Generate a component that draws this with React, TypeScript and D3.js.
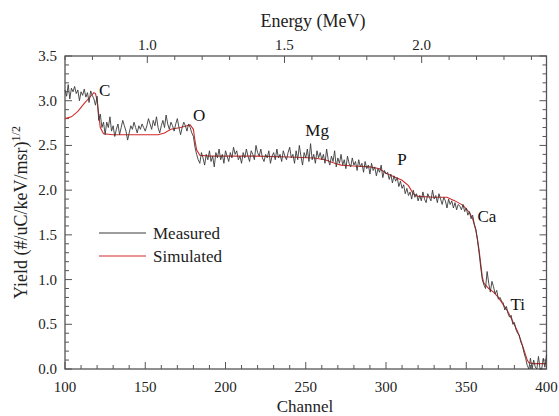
import React from "react";
import * as d3 from "d3";

const channelStart = 100;
const measured: number[] = [
  3.12, 3.05, 3.18, 3.02, 3.14, 3.10, 3.16, 3.08, 3.12, 3.00, 3.10, 3.06, 3.13, 3.04, 3.09, 2.98, 3.11, 3.06,
  3.02, 2.95, 3.05, 2.78, 2.85, 2.70, 2.76, 2.62,
  2.76, 2.70, 2.82, 2.66, 2.72, 2.60, 2.68, 2.74, 2.62, 2.70, 2.78, 2.72, 2.66, 2.56, 2.64, 2.72, 2.68, 2.76,
  2.70, 2.64, 2.72, 2.68, 2.74, 2.70, 2.66, 2.72, 2.80, 2.74, 2.68, 2.78, 2.72, 2.82, 2.70, 2.64, 2.72, 2.78,
  2.70, 2.84, 2.74, 2.68, 2.76, 2.72, 2.66, 2.74, 2.80, 2.70, 2.62, 2.70, 2.76, 2.72, 2.66, 2.74, 2.70, 2.64,
  2.60, 2.48, 2.40, 2.34,
  2.30, 2.42, 2.36, 2.28, 2.40, 2.34, 2.44, 2.32, 2.38, 2.26, 2.42, 2.36, 2.46, 2.34, 2.40, 2.30, 2.44, 2.38,
  2.32, 2.42, 2.36, 2.48, 2.40, 2.44, 2.34, 2.38, 2.30, 2.42, 2.36, 2.46, 2.38, 2.32, 2.44, 2.40, 2.34, 2.50,
  2.42, 2.38, 2.46, 2.36, 2.32, 2.40, 2.36, 2.44, 2.30, 2.38, 2.42, 2.34, 2.46, 2.36, 2.40, 2.32, 2.44, 2.38,
  2.34, 2.42, 2.48, 2.36, 2.40, 2.30, 2.44, 2.34, 2.50, 2.38, 2.28, 2.42, 2.36, 2.46, 2.32, 2.52, 2.34, 2.40,
  2.30, 2.44, 2.36, 2.42, 2.34,
  2.40, 2.30, 2.46, 2.34, 2.28, 2.38, 2.32, 2.44, 2.26, 2.36, 2.30, 2.40, 2.28, 2.34, 2.24, 2.38, 2.30, 2.26,
  2.36, 2.28, 2.32, 2.22, 2.34, 2.26, 2.30, 2.20, 2.32, 2.24, 2.28, 2.18, 2.30, 2.22, 2.26, 2.16, 2.24, 2.20,
  2.28, 2.14, 2.22, 2.18,
  2.20, 2.12, 2.18, 2.08, 2.16, 2.10, 2.14, 2.04, 2.10, 2.02, 2.06, 1.96, 2.02, 1.94, 1.98, 1.90, 2.00, 1.92,
  1.96, 1.88,
  1.94, 1.88, 1.98, 1.90, 1.86, 1.96, 1.92, 1.88, 2.00, 1.90, 1.94, 1.86, 1.96, 1.90, 1.84, 1.92, 1.88, 1.80,
  1.90, 1.84, 1.88, 1.80, 1.86, 1.78, 1.84,
  1.82, 1.78, 1.84, 1.76, 1.80, 1.72, 1.76, 1.68, 1.72, 1.62, 1.56, 1.44, 1.30, 1.14, 1.00, 0.94,
  0.90, 1.09, 0.96, 0.86, 0.98, 0.92, 0.84, 0.88, 0.78, 0.80, 0.76,
  0.74, 0.66, 0.70, 0.62, 0.58, 0.60, 0.50, 0.52, 0.44, 0.40, 0.38, 0.30, 0.26, 0.18, 0.12, 0.04,
  0.00, 0.12, 0.00, 0.10, 0.02, 0.00, 0.14, 0.00, 0.00, 0.12, 0.02, 0.16,
];

const simChannels: number[] = [
  100, 104, 108, 112, 116, 118, 119, 120, 121, 122, 124, 130, 140, 150, 158, 162, 166, 172, 176, 178, 180, 181,
  182, 184, 190, 200, 220, 240, 255, 262, 268, 272, 280, 290, 296, 300, 305, 310, 314, 317, 320, 330, 338, 343,
  348, 352, 354, 356, 357, 358, 359, 360, 361, 364, 367, 370, 373, 376, 379, 382, 384, 386, 388, 389, 392, 400,
];
const simValues: number[] = [
  2.80, 2.82, 2.88, 2.97, 3.05, 3.09, 3.08, 3.0, 2.85, 2.70, 2.63, 2.62, 2.62, 2.62, 2.62, 2.64, 2.68, 2.70, 2.72,
  2.73, 2.68, 2.55, 2.45, 2.39, 2.38, 2.38, 2.38, 2.37, 2.36, 2.34, 2.30, 2.28, 2.27, 2.26, 2.24, 2.19, 2.15, 2.11,
  2.05, 1.96, 1.93, 1.92, 1.92, 1.88, 1.83, 1.75, 1.68, 1.55, 1.45, 1.33, 1.18, 1.03, 0.96, 0.90, 0.86, 0.80, 0.72,
  0.64, 0.53, 0.42, 0.32, 0.21, 0.10, 0.07, 0.06, 0.06,
];

const xTicks: number[] = [100, 150, 200, 250, 300, 350, 400];
const yTicks: number[] = [0, 0.5, 1.0, 1.5, 2.0, 2.5, 3.0, 3.5];
const energyTicks: number[] = [1.0, 1.5, 2.0];
const energyDomain: number[] = [0.70, 2.455];

const peakLabels: string[] = ["C", "O", "Mg", "P", "Ca", "Ti"];
const peakChannels: number[] = [121.2, 179.8, 249.7, 307, 357, 377.6];
const peakValues: number[] = [3.05, 2.77, 2.6, 2.28, 1.64, 0.66];

const legendNames: string[] = ["Measured", "Simulated"];
const legendColors: string[] = ["#3a3a3a", "#d42a2a"];

export default function App() {
  const W = 559, H = 416;
  const left = 65, right = 546.5, top = 56, bottom = 369;
  const x = d3.scaleLinear().domain([100, 400]).range([left, right]);
  const y = d3.scaleLinear().domain([0, 3.5]).range([bottom, top]);
  const xe = d3.scaleLinear().domain(energyDomain).range([left, right]);

  const line = d3.line<[number, number]>().x((d) => x(d[0])).y((d) => y(d[1]));
  const measPts: [number, number][] = measured.map((v, i) => [channelStart + i, v]);
  const simPts: [number, number][] = simChannels.map((c, i) => [c, simValues[i]]);

  const axisColor = "#555";
  const font = '"Liberation Serif", "DejaVu Serif", "Times New Roman", serif';

  const xMinor = d3.range(100, 401, 10);
  const yMinor = d3.range(0, 36, 1);
  const eMinor = d3.range(7, 25, 1);

  return (
    <svg width={W} height={H} style={{ position: "absolute", left: 0, top: 0, fontFamily: font }}>
      <rect x={0} y={0} width={W} height={H} fill="#fff" />
      <rect x={left} y={top} width={right - left} height={bottom - top} fill="none" stroke={axisColor} strokeWidth={1.3} />
      {xMinor.map((c) => {
        const major = c % 50 === 0;
        return <line key={"bx" + c} x1={x(c)} x2={x(c)} y1={bottom} y2={bottom - (major ? 7 : 4)} stroke={axisColor} />;
      })}
      {eMinor.map((r) => {
        const major = r % 5 === 0;
        return <line key={"te" + r} x1={xe(r / 10)} x2={xe(r / 10)} y1={top} y2={top + (major ? 7 : 4)} stroke={axisColor} />;
      })}
      {yMinor.map((i) => {
        const major = i % 5 === 0;
        const len = major ? 7 : 4;
        const yy = y(i / 10);
        return (
          <g key={"yt" + i}>
            <line x1={left} x2={left + len} y1={yy} y2={yy} stroke={axisColor} />
            <line x1={right} x2={right - len} y1={yy} y2={yy} stroke={axisColor} />
          </g>
        );
      })}
      {xTicks.map((c) => (
        <text key={"xl" + c} x={x(c)} y={392} textAnchor="middle" fontSize={15} fill="#222">{c}</text>
      ))}
      {yTicks.map((v) => (
        <text key={"yl" + v} x={57} y={y(v) + 5} textAnchor="end" fontSize={15} fill="#222">{v.toFixed(1)}</text>
      ))}
      {energyTicks.map((e) => (
        <text key={"el" + e} x={xe(e)} y={50} textAnchor="middle" fontSize={15} fill="#222">{e.toFixed(1)}</text>
      ))}
      <text x={305} y={412} textAnchor="middle" fontSize={17} fill="#222">Channel</text>
      <text x={313} y={27} textAnchor="middle" fontSize={18} fill="#222">Energy (MeV)</text>
      <text transform={`translate(27, ${(top + bottom) / 2}) rotate(-90)`} textAnchor="middle" fontSize={18} fill="#222">
        Yield (#/uC/keV/msr)<tspan dy={-7} fontSize={12}>1/2</tspan>
      </text>
      <path d={line(simPts) || ""} fill="none" stroke={legendColors[1]} strokeWidth={1.1} />
      <path d={line(measPts) || ""} fill="none" stroke={legendColors[0]} strokeWidth={0.9} />
      {peakLabels.map((t, i) => (
        <text key={"pk" + t} x={x(peakChannels[i])} y={y(peakValues[i])} fontSize={17} fill="#111">{t}</text>
      ))}
      {legendNames.map((n, i) => (
        <g key={"lg" + n}>
          <line x1={99} x2={146} y1={233 + i * 23} y2={233 + i * 23} stroke={legendColors[i]} strokeWidth={1.1} />
          <text x={153} y={239 + i * 23} fontSize={17} fill="#222">{n}</text>
        </g>
      ))}
    </svg>
  );
}
